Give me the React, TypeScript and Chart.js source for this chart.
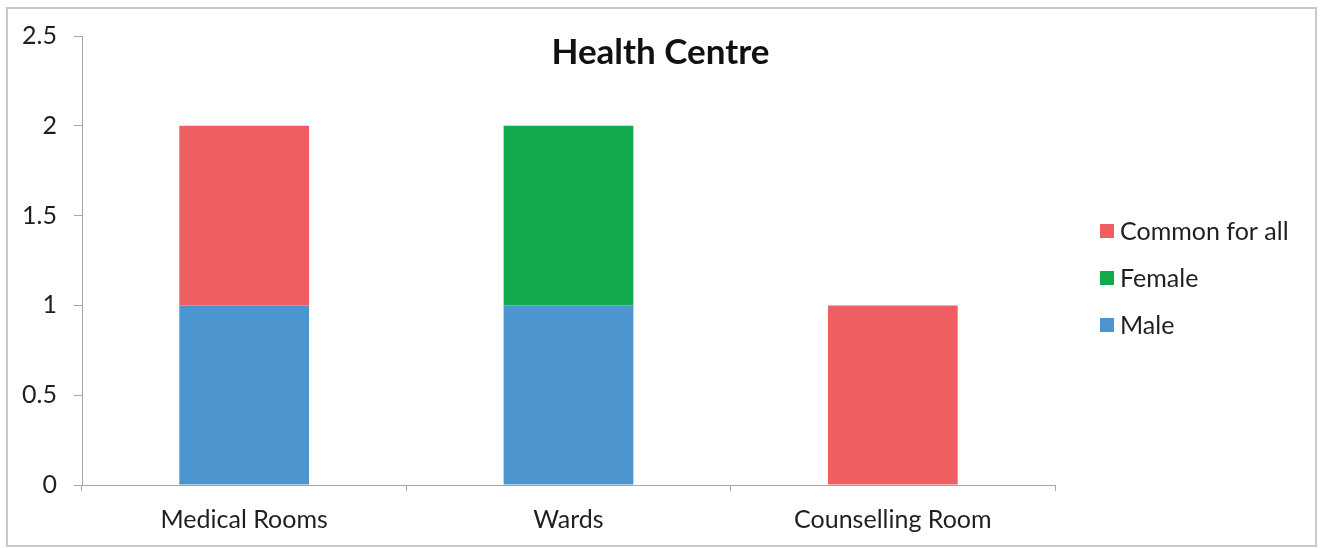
import React, { useEffect, useRef } from "react";
import { Chart, registerables } from "chart.js";

Chart.register(...registerables);

const categories = ["Medical Rooms", "Wards", "Counselling Room"];
const maleValues = [1, 1, 0];
const femaleValues = [0, 1, 0];
const commonValues = [1, 0, 1];
const yTicks = { min: 0, max: 2.5, step: 0.5 };
const chartTitle = "Health Centre";

const FONT = 'Lato, "Open Sans", sans-serif';
const AXIS_COLOR = "#A6A6A6";
const TEXT_COLOR = "#1f1f1f";

const titlePlugin = {
  id: "insideTitle",
  afterDraw(chart: any) {
    const { ctx, chartArea } = chart;
    ctx.save();
    ctx.font = `bold 35px ${FONT}`;
    ctx.fillStyle = "#111";
    ctx.textAlign = "center";
    ctx.textBaseline = "middle";
    ctx.fillText(chartTitle, chart.width / 2, chartArea.top + 17);
    ctx.restore();
  },
};

const legendPlugin = {
  id: "sideLegend",
  afterDraw(chart: any) {
    const { ctx, chartArea } = chart;
    const items = chart.data.datasets.slice().reverse();
    ctx.save();
    ctx.font = `25px ${FONT}`;
    ctx.textBaseline = "middle";
    ctx.textAlign = "left";
    const x = chartArea.right + 45;
    const centerY = chart.height / 2 + 4;
    items.forEach((ds: any, i: number) => {
      const y = centerY + (i - (items.length - 1) / 2) * 47;
      ctx.fillStyle = ds.backgroundColor;
      ctx.fillRect(x, y - 7, 14, 14);
      ctx.fillStyle = TEXT_COLOR;
      ctx.fillText(ds.label, x + 20, y + 1);
    });
    ctx.restore();
  },
};

export default function App() {
  const canvasRef = useRef<HTMLCanvasElement | null>(null);

  useEffect(() => {
    document.body.style.margin = "0";
    const canvas = canvasRef.current;
    if (!canvas) return;
    const chart = new Chart(canvas, {
      type: "bar",
      data: {
        labels: categories,
        datasets: [
          { label: "Male", data: maleValues, backgroundColor: "#4C95CF" },
          { label: "Female", data: femaleValues, backgroundColor: "#12AB4B" },
          { label: "Common for all", data: commonValues, backgroundColor: "#EF5F62" },
        ],
      },
      options: {
        responsive: false,
        animation: false,
        devicePixelRatio: 1,
        layout: { padding: { left: 0, right: 266, top: 36, bottom: 16 } },
        datasets: { bar: { barPercentage: 0.4, categoryPercentage: 1, borderWidth: 0 } },
        plugins: {
          legend: { display: false },
          title: { display: false },
          tooltip: { enabled: false },
        },
        scales: {
          x: {
            stacked: true,
            afterFit: (s: any) => {
              s.height = 47;
            },
            grid: {
              display: true,
              drawOnChartArea: false,
              drawTicks: true,
              tickLength: 6,
              color: AXIS_COLOR,
              offset: true,
            },
            border: { display: true, color: AXIS_COLOR, width: 1 },
            ticks: {
              font: { family: FONT, size: 25 },
              color: TEXT_COLOR,
              padding: 14,
              maxRotation: 0,
            },
          },
          y: {
            stacked: true,
            min: yTicks.min,
            max: yTicks.max,
            afterFit: (s: any) => {
              s.width = 82;
            },
            grid: {
              display: true,
              drawOnChartArea: false,
              drawTicks: true,
              tickLength: 8,
              color: AXIS_COLOR,
            },
            border: { display: true, color: AXIS_COLOR, width: 1 },
            ticks: {
              stepSize: yTicks.step,
              font: { family: FONT, size: 25 },
              color: TEXT_COLOR,
              padding: 17,
              callback: (v: any) => String(Number(v)),
            },
          },
        },
      },
      plugins: [titlePlugin, legendPlugin],
    });
    return () => chart.destroy();
  }, []);

  return (
    <div style={{ position: "relative", width: 1321, height: 548, background: "#fff" }}>
      <div
        style={{
          position: "absolute",
          left: 6,
          top: 7,
          width: 1311,
          height: 540,
          boxSizing: "border-box",
          border: "2px solid #C9C9C9",
        }}
      />
      <canvas
        ref={canvasRef}
        width={1321}
        height={548}
        style={{ position: "absolute", left: 0, top: 0 }}
      />
    </div>
  );
}
